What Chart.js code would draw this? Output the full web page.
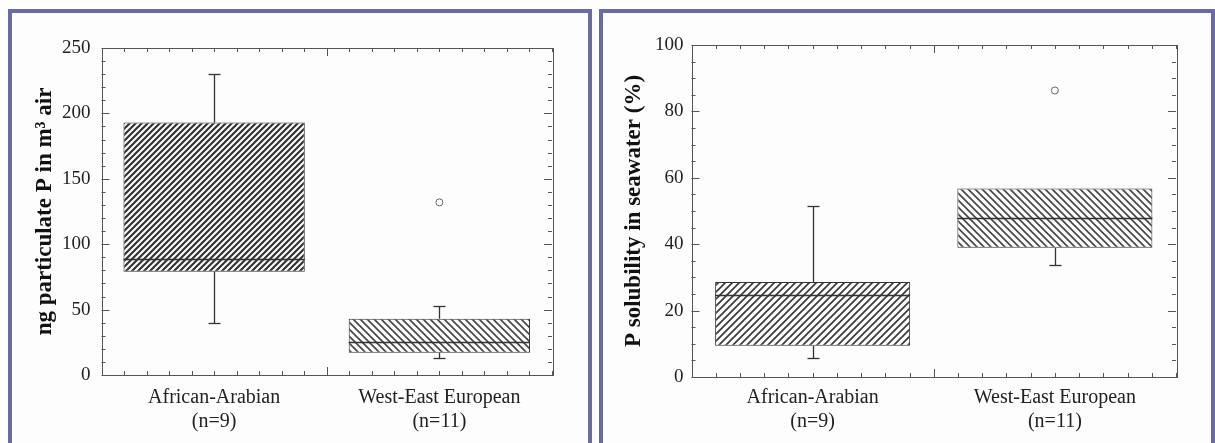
<!DOCTYPE html>
<html>
<head>
<meta charset="utf-8">
<script src="https://cdn.jsdelivr.net/npm/chart.js@4.4.1/dist/chart.umd.min.js"></script>
<style>
  body { margin: 0; background: #fff; width: 1215px; height: 443px; overflow: hidden; position: relative; }
  .panel { position: absolute; top: 9px; height: 450px; border: 4px solid #6a6aa5; border-bottom: none; background: #fdfdfd; box-sizing: border-box; }
  #panelP { left: 8px; width: 584px; }
  #panelS { left: 599px; width: 616px; }
  .panel canvas { position: absolute; left: 0; top: 0; }
</style>
</head>
<body>
<div class="panel" id="panelP"><canvas id="chartP" width="576" height="430"></canvas></div>
<div class="panel" id="panelS"><canvas id="chartS" width="608" height="430"></canvas></div>
<script>
'use strict';

// Source regions and sample counts
var groups = ['African-Arabian', 'West-East European'];
var groupN = ['(n=9)', '(n=11)'];

// Particulate P, ng per m3 of air
var pLow = [40, 13];
var pQ1 = [79, 17];
var pMedian = [89, 25];
var pQ3 = [193, 43];
var pHigh = [230, 53];
var pOutlier = [null, 132];

// P solubility in seawater, %
var sLow = [5.6, 33.6];
var sQ1 = [9.4, 38.9];
var sMedian = [24.6, 47.9];
var sQ3 = [28.6, 56.8];
var sHigh = [51.4, 56.8];
var sOutlier = [null, 86.3];

var serif = 'Liberation Serif, Times New Roman, serif';
var ink = '#333';

// Diagonal hatch fill; dir 1 = "/", dir -1 = "\"
function hatch(size, dir, width, color) {
  var c = document.createElement('canvas');
  c.width = c.height = size;
  var g = c.getContext('2d');
  g.fillStyle = '#fdfdfd';
  g.fillRect(0, 0, size, size);
  g.strokeStyle = color;
  g.lineWidth = width;
  g.beginPath();
  for (var k = -1; k <= 1; k++) {
    if (dir > 0) {
      g.moveTo(k * size - 1, size + 1);
      g.lineTo(k * size + size + 1, -1);
    } else {
      g.moveTo(k * size - 1, -1);
      g.lineTo(k * size + size + 1, size + 1);
    }
  }
  g.stroke();
  return g.createPattern(c, 'repeat');
}

function seg(ctx, x1, y1, x2, y2) {
  ctx.beginPath();
  ctx.moveTo(x1, y1);
  ctx.lineTo(x2, y2);
  ctx.stroke();
}

// Frame round the plot with inward ticks on all four sides
var frameTicks = {
  id: 'frameTicks',
  afterDatasetsDraw: function(chart, args, opts) {
    var ctx = chart.ctx;
    var a = chart.chartArea;
    var x = chart.scales.x;
    var y = chart.scales.y;
    ctx.save();
    ctx.strokeStyle = '#555';
    ctx.lineWidth = 1;
    ctx.strokeRect(Math.round(a.left) + 0.5, Math.round(a.top) + 0.5, Math.round(a.width), Math.round(a.height));
    var steps = Math.round((y.max - y.min) / opts.minor);
    for (var i = 0; i <= steps; i++) {
      var v = y.min + i * opts.minor;
      var py = Math.round(y.getPixelForValue(v)) + 0.5;
      var len = i % opts.every === 0 ? 8 : 4;
      seg(ctx, a.left, py, a.left + len, py);
      seg(ctx, a.right, py, a.right - len, py);
    }
    for (var k = 0; k <= 20; k++) {
      var px = Math.round(x.getPixelForValue(-0.5 + k / 10)) + 0.5;
      var l = k === 10 ? 8 : 4;
      seg(ctx, px, a.bottom, px, a.bottom - l);
      seg(ctx, px, a.top, px, a.top + l);
    }
    ctx.restore();
  }
};

// Medians, whiskers and caps for the floating-bar boxes
var boxParts = {
  id: 'boxParts',
  afterDatasetsDraw: function(chart, args, opts) {
    var ctx = chart.ctx;
    var y = chart.scales.y;
    var bars = chart.getDatasetMeta(0).data;
    ctx.save();
    ctx.strokeStyle = ink;
    ctx.lineWidth = 1.3;
    bars.forEach(function(bar, i) {
      var cx = Math.round(bar.x) + 0.5;
      var half = bar.width / 2;
      var my = Math.round(y.getPixelForValue(opts.median[i])) + 0.5;
      seg(ctx, bar.x - half, my, bar.x + half, my);
      [[opts.q3[i], opts.high[i]], [opts.q1[i], opts.low[i]]].forEach(function(w) {
        if (w[0] === w[1]) return;
        var y0 = y.getPixelForValue(w[0]);
        var y1 = Math.round(y.getPixelForValue(w[1])) + 0.5;
        seg(ctx, cx, y0, cx, y1);
        seg(ctx, cx - 6, y1, cx + 6, y1);
      });
    });
    ctx.restore();
  }
};

function boxChart(id, q1, q3, outlier, fills, yMax, step, minor, title, pad, parts) {
  var labels = groups.map(function(g, i) { return [g, groupN[i]]; });
  return new Chart(document.getElementById(id), {
    type: 'bar',
    data: {
      labels: labels,
      datasets: [
        {
          data: q1.map(function(v, i) { return [v, q3[i]]; }),
          backgroundColor: fills,
          borderColor: ink,
          borderWidth: 1,
          borderSkipped: false,
          barPercentage: 0.805,
          categoryPercentage: 1
        },
        {
          type: 'line',
          data: outlier,
          showLine: false,
          pointRadius: 3.5,
          pointBorderWidth: 1,
          pointBorderColor: '#666',
          pointBackgroundColor: '#fff'
        }
      ]
    },
    options: {
      responsive: false,
      animation: false,
      layout: { padding: { left: pad.left, right: pad.right, top: pad.top, bottom: pad.bottom } },
      plugins: {
        legend: { display: false },
        tooltip: { enabled: false },
        frameTicks: { minor: minor, every: step / minor },
        boxParts: parts
      },
      scales: {
        x: {
          grid: { display: false, drawTicks: false },
          border: { display: false },
          ticks: { color: '#222', padding: pad.tx, font: { family: serif, size: 20 } }
        },
        y: {
          min: 0,
          max: yMax,
          grid: { display: false, drawTicks: false },
          border: { display: false },
          ticks: { stepSize: step, color: '#222', padding: pad.ty, font: { family: serif, size: 19 } },
          title: {
            display: true,
            text: title,
            color: '#111',
            padding: { top: 4, bottom: pad.tb },
            font: { family: serif, size: 23, weight: 'bold', lineHeight: 1 }
          }
        }
      }
    },
    plugins: [frameTicks, boxParts]
  });
}

boxChart('chartP', pQ1, pQ3, pOutlier,
  [hatch(6, 1, 2.2, '#333'), hatch(7, -1, 1.6, '#444')],
  250, 50, 10, 'ng particulate P in m\u00b3 air',
  { left: 18, right: 36, top: 35, bottom: -2, tx: 11, ty: 11, tb: -6 },
  { low: pLow, q1: pQ1, median: pMedian, q3: pQ3, high: pHigh });

boxChart('chartS', sQ1, sQ3, sOutlier,
  [hatch(7, 1, 1.7, '#3a3a3a'), hatch(7, -1, 1.6, '#444')],
  100, 20, 5, 'P solubility in seawater (%)',
  { left: 16, right: 35, top: 32, bottom: 0, tx: 9, ty: 8, tb: 1 },
  { low: sLow, q1: sQ1, median: sMedian, q3: sQ3, high: sHigh });
</script>
</body>
</html>
